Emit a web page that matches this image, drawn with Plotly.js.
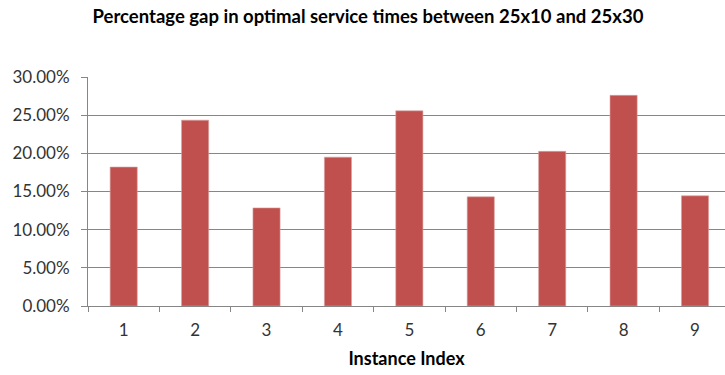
<!DOCTYPE html>
<html>
<head>
<meta charset="utf-8">
<script src="https://cdn.plot.ly/plotly-3.0.1.min.js"></script>
<style>
  html, body { margin: 0; padding: 0; background: #ffffff; }
  #chart { width: 725px; height: 375px; }
</style>
</head>
<body>
<div id="chart"></div>
<script>
// Instance indices and the percentage gap for each instance
const instances = ['1', '2', '3', '4', '5', '6', '7', '8', '9'];
const gapValues = [0.182, 0.2435, 0.1285, 0.195, 0.2557, 0.143, 0.2026, 0.276, 0.1443];

const chartTitle = 'Percentage gap in optimal service times between 25x10 and 25x30';
const xTitle = 'Instance Index';

const FONT = 'Lato, "Open Sans", "DejaVu Sans", sans-serif';

const trace = {
  type: 'bar',
  x: instances,
  y: gapValues,
  marker: {
    color: '#C0504D',
    line: { color: '#D9A3A1', width: 0.6 }
  },
  hoverinfo: 'x+y'
};

const layout = {
  width: 725,
  height: 375,
  margin: { l: 88, r: 0, t: 77, b: 69 },
  paper_bgcolor: '#ffffff',
  plot_bgcolor: '#ffffff',
  bargap: 0.62,
  showlegend: false,
  font: { family: FONT, color: '#333333' },
  title: {
    text: chartTitle,
    font: { family: FONT, size: 18.5, color: '#000000', weight: 'bold' },
    x: 368 / 725,
    xanchor: 'center',
    xref: 'container',
    y: 1 - 17 / 375,
    yanchor: 'middle',
    yref: 'container'
  },
  xaxis: {
    type: 'category',
    range: [-0.5, 8.42],
    tickson: 'boundaries',
    ticks: 'outside',
    ticklen: 5,
    tickcolor: '#868686',
    ticklabelstandoff: 9,
    showline: true,
    linecolor: '#868686',
    linewidth: 1,
    showgrid: false,
    tickfont: { family: FONT, size: 17, color: '#333333' },
    title: {
      text: xTitle,
      font: { family: FONT, size: 18, color: '#000000', weight: 'bold' },
      standoff: 12
    }
  },
  yaxis: {
    range: [0, 0.30],
    dtick: 0.05,
    tickformat: '.2%',
    ticks: 'outside',
    ticklen: 6,
    tickcolor: '#868686',
    ticklabelstandoff: 8,
    showline: true,
    linecolor: '#868686',
    linewidth: 1,
    showgrid: true,
    gridcolor: '#868686',
    gridwidth: 1,
    zeroline: false,
    tickfont: { family: FONT, size: 17, color: '#333333' }
  }
};

Plotly.newPlot('chart', [trace], layout, { displayModeBar: false, staticPlot: true });
</script>
</body>
</html>
